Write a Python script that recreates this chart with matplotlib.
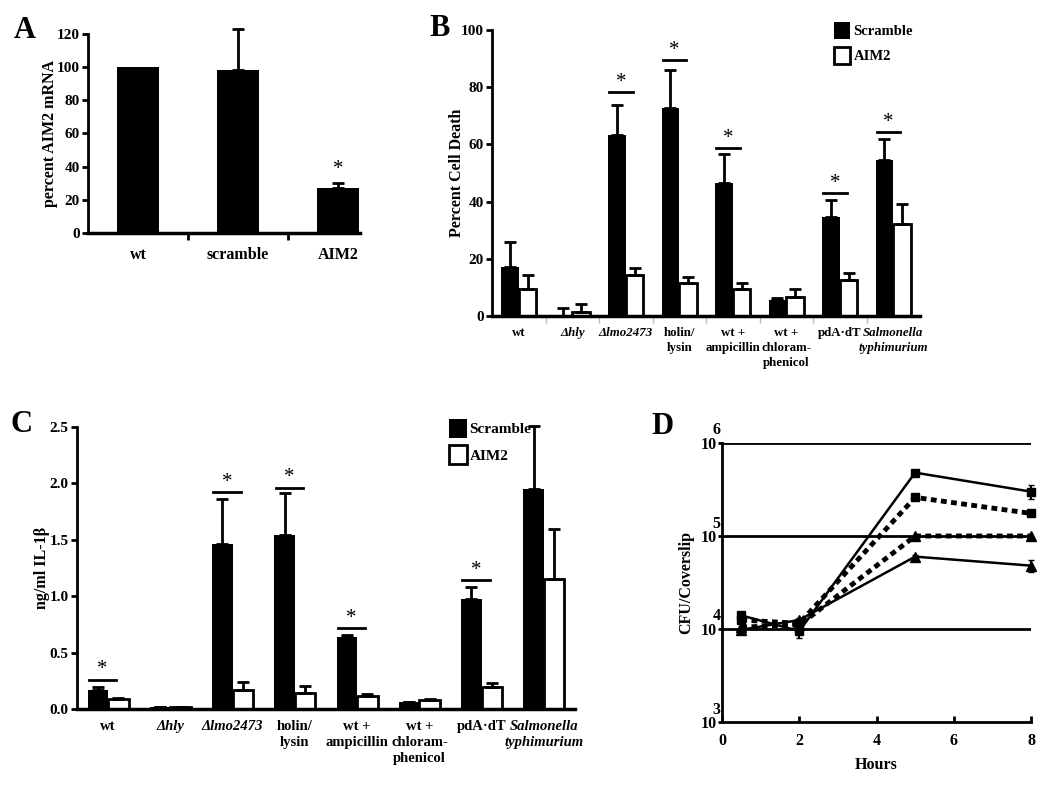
import numpy as np
import matplotlib
matplotlib.use("Agg")
import matplotlib.pyplot as plt

plt.rcParams['font.family'] = ['Liberation Serif', 'DejaVu Serif']
plt.rcParams['font.weight'] = 'bold'
plt.rcParams['axes.labelweight'] = 'bold'

# ---- panel A data
a_labels = ['wt', 'scramble', 'AIM2']
a_values = [100, 98, 27]
a_err = [0, 25, 3]

# ---- panel B / C categories
groups = ['wt', 'Δhly', 'Δlmo2473', 'holin/\nlysin',
          'wt +\nampicillin', 'wt +\nchloram-\nphenicol', 'pdA·dT',
          'Salmonella\ntyphimurium']
italic_groups = [1, 2, 7]

# panel B: percent cell death
b_scr = [17.3, 0.0, 63.4, 72.9, 46.4, 5.6, 34.7, 54.6]
b_scr_err = [8.5, 2.8, 10.3, 13.1, 10.4, 0.8, 5.9, 7.4]
b_aim = [9.5, 1.4, 14.2, 11.7, 9.6, 6.5, 12.7, 32.0]
b_aim_err = [5.0, 2.9, 2.5, 2.0, 2.0, 3.0, 2.3, 7.0]
b_sig = [2, 3, 4, 6, 7]
b_sig_y = [78.3, 89.4, 58.7, 43.0, 64.3]

# panel C: IL-1beta ng/ml
c_scr = [0.171, 0.02, 1.466, 1.543, 0.635, 0.065, 0.972, 1.948]
c_scr_err = [0.024, 0.0, 0.40, 0.37, 0.021, 0.0, 0.11, 0.56]
c_aim = [0.092, 0.02, 0.168, 0.142, 0.118, 0.077, 0.195, 1.15]
c_aim_err = [0.008, 0.0, 0.074, 0.065, 0.012, 0.015, 0.035, 0.45]
c_sig = [0, 2, 3, 4, 6]
c_sig_y = [0.26, 1.92, 1.96, 0.715, 1.14]

# panel D: CFU per coverslip
d_hours = [0.5, 2, 5, 8]
d_sq_solid = [1.4e4, 0.95e4, 4.8e5, 3.0e5]
d_sq_solid_err = [0.1e4, 0.15e4, 0.2e5, 0.5e5]
d_sq_dash = [1.25e4, 1.15e4, 2.6e5, 1.75e5]
d_tri_dash = [1.05e4, 1.1e4, 1.0e5, 1.0e5]
d_tri_solid = [0.98e4, 1.25e4, 6.0e4, 4.8e4]
d_tri_solid_err = [0.05e4, 0.05e4, 0.2e4, 0.7e4]

fig = plt.figure(figsize=(10.5, 7.86), dpi=100)
W, H = 1050.0, 786.0


def px_axes(l, t, r, b):
    return fig.add_axes([l / W, 1 - b / H, (r - l) / W, (b - t) / H])


def style_bar_axes(ax):
    ax.spines['top'].set_visible(False)
    ax.spines['right'].set_visible(False)
    ax.spines['left'].set_linewidth(2)
    ax.spines['bottom'].set_linewidth(2.5)
    ax.tick_params(axis='y', width=2, length=4, labelsize=11, pad=2)


# ---------------- A
axA = px_axes(88, 34, 360, 233)
xa = np.arange(len(a_labels))
axA.bar(xa, a_values, width=0.42, color='black')
axA.errorbar(xa[1:], a_values[1:], yerr=[[0, 0], a_err[1:]], fmt='none',
             ecolor='black', elinewidth=2, capsize=4, capthick=2, clip_on=False)
axA.text(xa[2], 38, '*', ha='center', va='center', fontsize=15, fontweight='normal')
axA.set_xlim(-0.5, 2.22)
axA.set_ylim(0, 120)
axA.set_yticks(range(0, 121, 20))
style_bar_axes(axA)
axA.set_xticks([0.5, 1.5])
axA.set_xticklabels([])
axA.set_xticks(xa, minor=True)
axA.set_xticklabels(a_labels, minor=True)
axA.tick_params(axis='x', which='major', width=2, length=5)
axA.tick_params(axis='x', which='minor', length=0, labelsize=11.5, pad=10)
axA.set_ylabel('percent AIM2 mRNA', fontsize=11.5)
axA.yaxis.set_label_coords(-0.11, 0.5)
fig.text(25 / W, 1 - 30 / H, 'A', fontsize=22, fontweight='bold', va='center', ha='center')


def grouped(ax, scr, scr_err, aim, aim_err, sig, sig_y, ymax, star_off,
            lab_size, leg_size, leg_anchor):
    x = np.arange(len(groups))
    w = 0.33
    b1 = ax.bar(x - w / 2, scr, width=w, color='black')
    b2 = ax.bar(x + w / 2, aim, width=w, color='white', edgecolor='black', linewidth=2)
    ax.errorbar(x - w / 2, scr, yerr=[np.zeros(len(x)), scr_err], fmt='none',
                ecolor='black', elinewidth=2, capsize=4, capthick=2, clip_on=False)
    ax.errorbar(x + w / 2, aim, yerr=[np.zeros(len(x)), aim_err], fmt='none',
                ecolor='black', elinewidth=2, capsize=4, capthick=2, clip_on=False)
    for i, yv in zip(sig, sig_y):
        ax.plot([i - 0.31, i + 0.13], [yv, yv], color='black', lw=2)
        ax.text(i - 0.09, yv + star_off, '*', ha='center', va='center',
                fontsize=15, fontweight='normal')
    ax.set_xlim(-0.5, len(groups) - 0.5)
    ax.set_ylim(0, ymax)
    style_bar_axes(ax)
    ax.set_xticks(np.arange(len(groups) - 1) + 0.5)
    ax.set_xticklabels([])
    ax.set_xticks(x, minor=True)
    ax.set_xticklabels(groups, minor=True)
    ax.tick_params(axis='x', which='minor', length=0, labelsize=lab_size, pad=8)
    for i, lab in enumerate(ax.get_xticklabels(minor=True)):
        lab.set_linespacing(1.3)
        if i in italic_groups:
            lab.set_fontstyle('italic')
    ax.legend([b1, b2], ['Scramble', 'AIM2'], loc='upper right',
              bbox_to_anchor=leg_anchor, frameon=False, fontsize=leg_size,
              handlelength=1.15, handleheight=1.5, handletextpad=0.2,
              labelspacing=0.5, borderaxespad=0)


# ---------------- B
axB = px_axes(492, 30, 920, 316)
grouped(axB, b_scr, b_scr_err, b_aim, b_aim_err, b_sig, b_sig_y, 100, 3.5,
        9.3, 10.5, (0.997, 1.05))
axB.set_yticks(range(0, 101, 20))
axB.tick_params(axis='x', which='major', color='#bbbbbb', width=1, length=5)
axB.set_ylabel('Percent Cell Death', fontsize=11.5)
axB.yaxis.set_label_coords(-0.062, 0.5)
fig.text(440 / W, 1 - 28 / H, 'B', fontsize=22, fontweight='bold', va='center', ha='center')

# ---------------- C
axC = px_axes(77, 427, 575, 709)
grouped(axC, c_scr, c_scr_err, c_aim, c_aim_err, c_sig, c_sig_y, 2.5, 0.09,
        10.5, 11, (0.925, 1.05))
axC.set_yticks(np.arange(0, 2.51, 0.5))
axC.set_yticklabels(['%.1f' % v for v in np.arange(0, 2.51, 0.5)])
axC.tick_params(axis='x', which='major', length=0)
axC.set_ylabel('ng/ml IL-1β', fontsize=11.5)
axC.yaxis.set_label_coords(-0.055, 0.5)
fig.text(22 / W, 1 - 425 / H, 'C', fontsize=22, fontweight='bold', va='center', ha='center')

# ---------------- D
axD = px_axes(722, 443, 1031, 722)
axD.set_yscale('log')
eb1 = axD.errorbar(d_hours, d_sq_solid, yerr=d_sq_solid_err, color='black', lw=1.8,
                   marker='s', ms=6, capsize=2.5, elinewidth=1.5)
l2, = axD.plot(d_hours, d_sq_dash, color='black', lw=3.5, ls=(0, (1.2, 0.9)),
               marker='s', ms=6)
l3, = axD.plot(d_hours, d_tri_dash, color='black', lw=3.5, ls=(0, (1.2, 0.9)),
               marker='^', ms=7)
eb4 = axD.errorbar(d_hours, d_tri_solid, yerr=d_tri_solid_err, color='black', lw=1.8,
                   marker='^', ms=7, capsize=2.5, elinewidth=1.5)
for art in [l2, l3, eb1[0], eb4[0]] + list(eb1[1]) + list(eb1[2]) + list(eb4[1]) + list(eb4[2]):
    art.set_clip_on(False)
axD.set_xlim(0, 8)
axD.set_ylim(1e3, 1e6)
for v in (1e4, 1e5, 1e6):
    axD.axhline(v, color='black', lw=2, zorder=0)
axD.spines['top'].set_visible(False)
axD.spines['right'].set_visible(False)
axD.spines['left'].set_linewidth(2)
axD.spines['bottom'].set_linewidth(2)
axD.set_xticks([0, 2, 4, 6, 8])
axD.tick_params(axis='x', direction='in', width=2, length=4, labelsize=11.5, pad=8)
axD.set_yticks([1e3, 1e4, 1e5, 1e6])
axD.set_yticklabels(['10'] * 4)
axD.yaxis.set_minor_locator(matplotlib.ticker.NullLocator())
axD.tick_params(axis='y', width=2, length=3, labelsize=11.5, pad=1)
for e in (3, 4, 5, 6):
    axD.annotate(str(e), xy=(0, 10 ** e), xycoords=('axes fraction', 'data'),
                 xytext=(-4, 9), textcoords='offset points', ha='center',
                 va='center', fontsize=11.5)
axD.set_xlabel('Hours', fontsize=11.5, labelpad=6)
axD.set_ylabel('CFU/Coverslip', fontsize=11.5)
axD.yaxis.set_label_coords(-0.09, 0.5)
fig.text(662 / W, 1 - 426 / H, 'D', fontsize=22, fontweight='bold', va='center', ha='center')

fig.savefig('out.png', dpi=100)
